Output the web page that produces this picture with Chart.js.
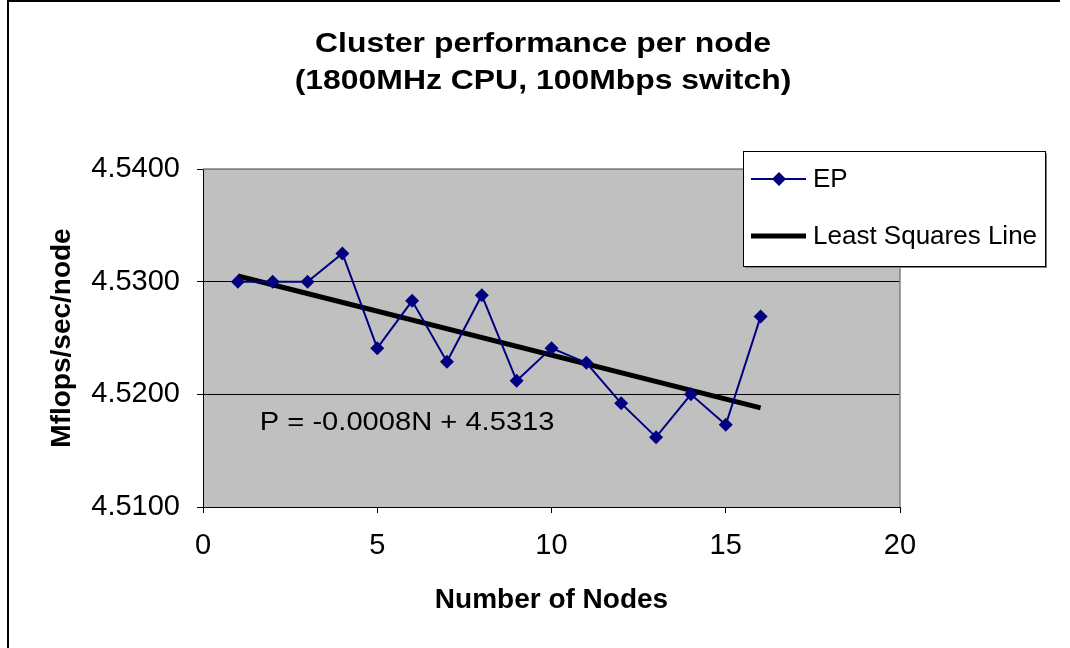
<!DOCTYPE html>
<html>
<head>
<meta charset="utf-8">
<title>Cluster performance per node</title>
<script src="https://cdn.jsdelivr.net/npm/chart.js@4/dist/chart.umd.min.js"></script>
<style>
    html, body { margin: 0; padding: 0; background: #fff; overflow: hidden; }
    #frame {
        position: absolute; left: 7px; top: 0;
        width: 1051px; height: 700px;
        border-top: 2px solid #000; border-left: 2px solid #000;
    }
    #wrap { position: absolute; left: 0; top: 0; width: 1070px; height: 648px; }
</style>
</head>
<body>
<div id="frame"></div>
<div id="wrap"><canvas id="chart"></canvas></div>

<script>
const FONT = '"Liberation Sans", Arial, sans-serif';

const titleLines = ["Cluster performance per node", "(1800MHz CPU, 100Mbps switch)"];
const nodes = [1, 2, 3, 4, 5, 6, 7, 8, 9, 10, 11, 12, 13, 14, 15, 16];
const epValues = [4.5300, 4.5300, 4.5300, 4.5325, 4.5241, 4.5283, 4.5229, 4.5288,
                  4.5212, 4.5241, 4.5228, 4.5192, 4.5162, 4.5200, 4.5173, 4.5269];
const fitNodes = [1, 16];
const fitValues = [4.5305, 4.5188];
const xTicks = [0, 5, 10, 15, 20];
const yTicks = [4.5100, 4.5200, 4.5300, 4.5400];
const equationText = "P = -0.0008N + 4.5313";

// text in the original is a little wider than the font, so squeeze it sideways
function wideText(ctx, text, x, y, sx, align) {
    ctx.save();
    ctx.translate(x, y);
    ctx.scale(sx, 1);
    ctx.textAlign = align;
    ctx.fillText(text, 0, 0);
    ctx.restore();
}

const decorations = {
    id: "decorations",
    beforeDraw(chart) {
        const { ctx, chartArea: a } = chart;
        ctx.save();
        ctx.fillStyle = "#c0c0c0";
        ctx.fillRect(a.left, a.top, a.right - a.left, a.bottom - a.top);
        ctx.restore();
    },
    beforeDatasetsDraw(chart) {
        const { ctx, chartArea: a } = chart;
        ctx.save();
        ctx.strokeStyle = "#808080";
        ctx.lineWidth = 1.5;
        ctx.beginPath();
        ctx.moveTo(a.left, a.top);
        ctx.lineTo(a.right, a.top);
        ctx.lineTo(a.right, a.bottom);
        ctx.stroke();
        ctx.restore();
    },
    afterDraw(chart) {
        const { ctx } = chart;
        const xs = chart.scales.x, ys = chart.scales.y;
        ctx.save();

        // title
        ctx.fillStyle = "#000";
        ctx.textBaseline = "middle";
        ctx.font = "bold 28px " + FONT;
        wideText(ctx, titleLines[0], 543, 44, 1.14, "center");
        wideText(ctx, titleLines[1], 543, 81, 1.14, "center");

        // equation of the fitted line
        ctx.font = "26px " + FONT;
        wideText(ctx, equationText, xs.getPixelForValue(1.63), ys.getPixelForValue(4.5175), 1.12, "left");

        // legend box
        const bx = 743, by = 151, bw = 302, bh = 115;
        ctx.fillStyle = "#808080";
        ctx.fillRect(bx + 2, by + 2, bw, bh);
        ctx.fillStyle = "#fff";
        ctx.fillRect(bx, by, bw, bh);
        ctx.strokeStyle = "#000";
        ctx.lineWidth = 1;
        ctx.strokeRect(bx + 0.5, by + 0.5, bw, bh);

        const ds = chart.data.datasets;
        const rows = [179, 236];
        ctx.font = "26px " + FONT;
        ctx.textAlign = "left";
        ds.forEach((d, i) => {
            const y = rows[i];
            ctx.strokeStyle = d.borderColor;
            ctx.lineWidth = d.borderWidth;
            ctx.beginPath();
            ctx.moveTo(751, y);
            ctx.lineTo(806, y);
            ctx.stroke();
            if (d.pointRadius > 0) {
                ctx.fillStyle = d.pointBackgroundColor;
                ctx.beginPath();
                ctx.moveTo(779, y - 7);
                ctx.lineTo(786, y);
                ctx.lineTo(779, y + 7);
                ctx.lineTo(772, y);
                ctx.closePath();
                ctx.fill();
            }
            ctx.fillStyle = "#000";
            ctx.fillText(d.label, 813, y + 1);
        });
        ctx.restore();
    }
};

new Chart(document.getElementById("chart"), {
    type: "line",
    data: {
        datasets: [{
            label: "EP",
            data: nodes.map((n, i) => ({ x: n, y: epValues[i] })),
            borderColor: "#000080",
            borderWidth: 2,
            pointStyle: "rectRot",
            pointRadius: 7,
            pointBackgroundColor: "#000080",
            pointBorderColor: "#000080",
            pointBorderWidth: 0,
            tension: 0
        }, {
            label: "Least Squares Line",
            data: fitNodes.map((n, i) => ({ x: n, y: fitValues[i] })),
            borderColor: "#000",
            borderWidth: 5,
            pointRadius: 0,
            tension: 0
        }]
    },
    options: {
        responsive: true,
        maintainAspectRatio: false,
        animation: false,
        layout: { padding: { top: 169, right: 170, bottom: 0, left: 0 } },
        plugins: {
            legend: { display: false },
            title: { display: false },
            tooltip: { enabled: false }
        },
        scales: {
            x: {
                type: "linear",
                min: 0,
                max: 20,
                afterBuildTicks: s => { s.ticks = xTicks.map(v => ({ value: v })); },
                afterFit: s => { s.height = 141; },
                grid: { drawOnChartArea: false, tickLength: 6, color: "#000", tickColor: "#000" },
                border: { color: "#000", width: 1 },
                ticks: { color: "#000", padding: 16, maxRotation: 0, font: { family: FONT, size: 29 } },
                title: {
                    display: true,
                    text: "Number of Nodes",
                    color: "#000",
                    font: { family: FONT, size: 28, weight: "bold" },
                    padding: { top: 0, bottom: 31 }
                }
            },
            y: {
                type: "linear",
                min: 4.51,
                max: 4.54,
                afterBuildTicks: s => { s.ticks = yTicks.map(v => ({ value: v })); },
                afterFit: s => { s.width = 203; },
                grid: {
                    tickLength: 6,
                    color: c => (c.tick && c.tick.value === 4.54 ? "#808080" : "#000"),
                    tickColor: "#000",
                    lineWidth: 1
                },
                border: { color: "#000", width: 1 },
                ticks: {
                    color: "#000",
                    padding: 17,
                    font: { family: FONT, size: 29 },
                    callback: v => v.toFixed(4)
                },
                title: {
                    display: true,
                    text: "Mflops/sec/node",
                    color: "#000",
                    font: { family: FONT, size: 28, weight: "bold" },
                    padding: { top: 45, bottom: 0 }
                }
            }
        }
    },
    plugins: [decorations]
});
</script>
</body>
</html>
